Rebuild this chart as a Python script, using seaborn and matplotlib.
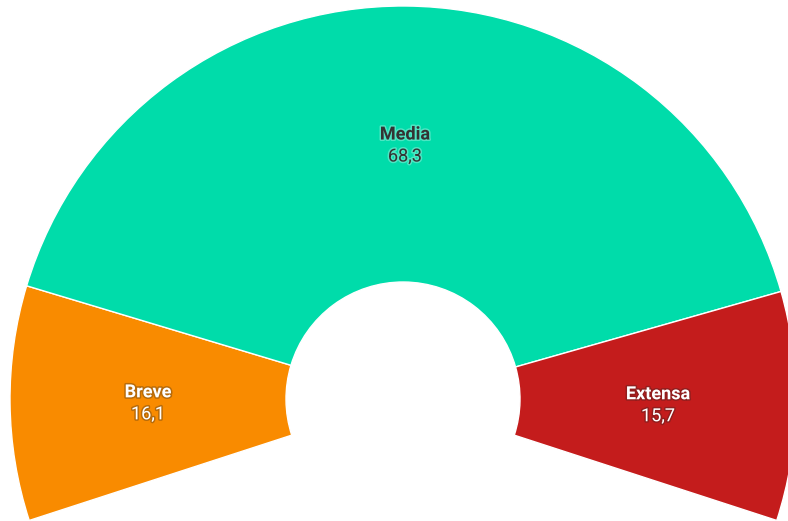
import numpy as np
import matplotlib
matplotlib.use("Agg")
import matplotlib.pyplot as plt
import matplotlib.patheffects as pe
import seaborn as sns

# Shares of interview length
categories = ["Breve", "Media", "Extensa"]
values = [16.1, 68.3, 15.7]
value_labels = ["16,1", "68,3", "15,7"]
colors = ["#f98b00", "#00dcaa", "#c41c1c"]

sns.set_theme(style="white")
plt.rcParams["font.family"] = ["Roboto", "DejaVu Sans"]

W, H = 788, 521
fig = plt.figure(figsize=(W / 100, H / 100), dpi=100)
ax = fig.add_axes([0, 0, 1, 1])

# Arc geometry (pixels)
cx, cy = 403, H - 399
r_out, r_in = 393, 117
span = 216.0
start = 90 + span / 2

total = sum(values)
hidden = total * (360 - span) / span
wedges, _ = ax.pie(
    values + [hidden],
    colors=colors + ["none"],
    startangle=start,
    counterclock=False,
    radius=r_out,
    center=(cx, cy),
    wedgeprops=dict(width=r_out - r_in, edgecolor="white", linewidth=1),
    frame=True,
)
wedges[-1].set_edgecolor("none")
ax.set_xlim(0, W)
ax.set_ylim(0, H)
ax.set_aspect("equal")
ax.axis("off")

r_mid = (r_out + r_in) / 2
angle = start
for name, v, lab, c in zip(categories, values, value_labels, colors):
    sweep = v / total * span
    mid = np.deg2rad(angle - sweep / 2)
    angle -= sweep
    x = cx + r_mid * np.cos(mid)
    y = cy + r_mid * np.sin(mid)
    if name == "Media":
        fc, oc = "#333333", "white"
    else:
        fc, oc = "white", "#222222"
    effects = [pe.withStroke(linewidth=2.2, foreground=oc, alpha=0.3)]
    ax.text(x, y + 9.5, name, ha="center", va="center", fontsize=13,
            fontweight="bold", color=fc, path_effects=effects)
    ax.text(x, y - 12.5, lab, ha="center", va="center", fontsize=13,
            color=fc, path_effects=effects)

fig.savefig("out.png", dpi=100, facecolor="white")
